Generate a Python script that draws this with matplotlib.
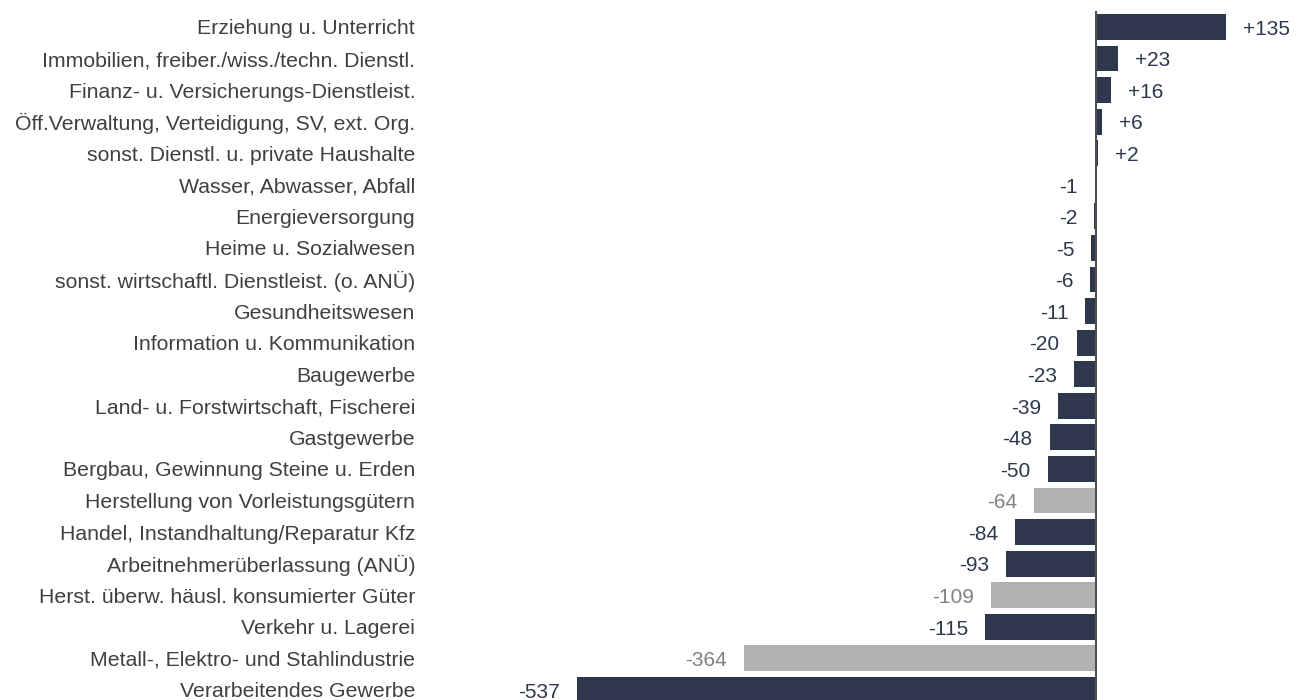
import matplotlib.pyplot as plt

categories = [
    'Erziehung u. Unterricht',
    'Immobilien, freiber./wiss./techn. Dienstl.',
    'Finanz- u. Versicherungs-Dienstleist.',
    'Öff.Verwaltung, Verteidigung, SV, ext. Org.',
    'sonst. Dienstl. u. private Haushalte',
    'Wasser, Abwasser, Abfall',
    'Energieversorgung',
    'Heime u. Sozialwesen',
    'sonst. wirtschaftl. Dienstleist. (o. ANÜ)',
    'Gesundheitswesen',
    'Information u. Kommunikation',
    'Baugewerbe',
    'Land- u. Forstwirtschaft, Fischerei',
    'Gastgewerbe',
    'Bergbau, Gewinnung Steine u. Erden',
    'Herstellung von Vorleistungsgütern',
    'Handel, Instandhaltung/Reparatur Kfz',
    'Arbeitnehmerüberlassung (ANÜ)',
    'Herst. überw. häusl. konsumierter Güter',
    'Verkehr u. Lagerei',
    'Metall-, Elektro- und Stahlindustrie',
    'Verarbeitendes Gewerbe',
]
values = [135, 23, 16, 6, 2, -1, -2, -5, -6, -11, -20, -23, -39, -48, -50,
          -64, -84, -93, -109, -115, -364, -537]
# sub-branches of manufacturing are shown in grey
sub_branch = [False] * 15 + [True, False, False, True, False, True, False]

navy = '#2f374d'
grey = '#b1b1b1'
plt.rcParams['font.family'] = ['Liberation Sans', 'DejaVu Sans']

fig = plt.figure(figsize=(13.03, 7.0), dpi=100)
ax = fig.add_axes([420 / 1303, 0, 883 / 1303, 1])

y = list(range(len(values)))
colors = [grey if s else navy for s in sub_branch]
ax.barh(y, values, height=0.82, color=colors)

for i, v in enumerate(values):
    txt = f'+{v}' if v > 0 else str(v)
    tc = '#808080' if sub_branch[i] else navy
    if v > 0:
        ax.annotate(txt, (v, i), xytext=(12.2, -5.6), textcoords='offset points',
                    ha='left', va='baseline', fontsize=15, color=tc)
    else:
        ax.annotate(txt, (v, i), xytext=(-12.2, -5.6), textcoords='offset points',
                    ha='right', va='baseline', fontsize=15, color=tc)

ax.plot([0, 0], [-0.48, 21.4], color='#505050', lw=1.5, clip_on=False)

ax.set_xlim(-699.4, 214.2)
ax.set_ylim(21.32, -0.855)
ax.set_yticks(y)
ax.set_yticklabels(categories, fontsize=15.3, color='#404040')
ax.tick_params(axis='y', length=0, pad=3.5)
ax.set_xticks([])
for s in ax.spines.values():
    s.set_visible(False)

fig.savefig('out.png', dpi=100)
